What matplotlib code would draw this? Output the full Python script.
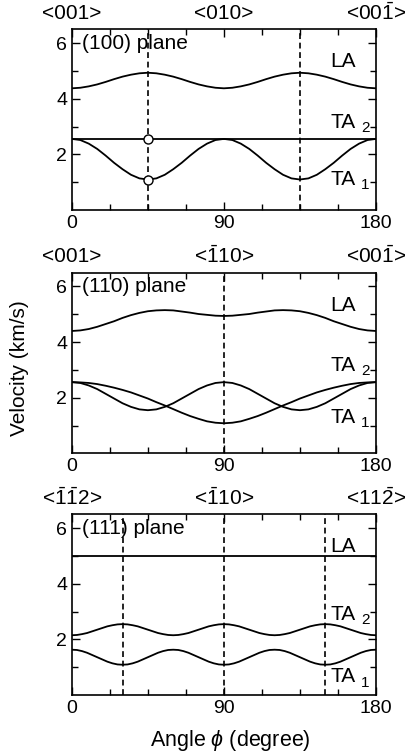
import numpy as np
import matplotlib
matplotlib.use("Agg")
import matplotlib.pyplot as plt
import matplotlib.transforms as mtransforms

plt.rcParams['font.family'] = ['Liberation Sans', 'DejaVu Sans']
plt.rcParams['mathtext.fontset'] = 'custom'
plt.rcParams['mathtext.rm'] = 'Liberation Sans'
plt.rcParams['mathtext.it'] = 'Liberation Sans:italic'

# angles (degree)
phi_a = np.arange(0, 181, 5)
phi_b = np.arange(0, 181, 3)

# (100) plane, velocities in km/s
p1_LA = [4.38, 4.40, 4.45, 4.52, 4.61, 4.71, 4.80, 4.87, 4.92, 4.94, 4.92, 4.87, 4.80, 4.71, 4.61, 4.52, 4.45, 4.40, 4.38,
         4.40, 4.45, 4.52, 4.61, 4.71, 4.80, 4.87, 4.92, 4.94, 4.92, 4.87, 4.80, 4.71, 4.61, 4.52, 4.45, 4.40, 4.38]
p1_TA2 = [2.56] * 37
p1_TA1 = [2.56, 2.52, 2.39, 2.20, 1.96, 1.70, 1.47, 1.27, 1.14, 1.10, 1.14, 1.27, 1.47, 1.70, 1.96, 2.20, 2.39, 2.52, 2.56,
          2.52, 2.39, 2.20, 1.96, 1.70, 1.47, 1.27, 1.14, 1.10, 1.14, 1.27, 1.47, 1.70, 1.96, 2.20, 2.39, 2.52, 2.56]

# (110) plane
p2_LA = [4.40, 4.42, 4.47, 4.55, 4.65, 4.75, 4.87, 4.97, 5.05, 5.11, 5.14, 5.15, 5.14, 5.10, 5.06, 5.01, 4.98, 4.95, 4.94,
         4.95, 4.98, 5.01, 5.06, 5.10, 5.14, 5.15, 5.14, 5.11, 5.05, 4.97, 4.87, 4.75, 4.65, 4.55, 4.47, 4.42, 4.40]
p2_TA2 = [2.56, 2.53, 2.44, 2.31, 2.14, 1.97, 1.80, 1.67, 1.58, 1.55, 1.58, 1.67, 1.80, 1.97, 2.14, 2.31, 2.44, 2.53, 2.56,
          2.53, 2.44, 2.31, 2.14, 1.97, 1.80, 1.67, 1.58, 1.55, 1.58, 1.67, 1.80, 1.97, 2.14, 2.31, 2.44, 2.53, 2.56]
p2_TA1 = [2.56, 2.55, 2.53, 2.49, 2.43, 2.36, 2.28, 2.19, 2.08, 1.97, 1.84, 1.72, 1.59, 1.46, 1.34, 1.24, 1.15, 1.10, 1.08,
          1.10, 1.15, 1.24, 1.34, 1.46, 1.59, 1.72, 1.84, 1.97, 2.08, 2.19, 2.28, 2.36, 2.43, 2.49, 2.53, 2.55, 2.56]

# (111) plane
p3_LA = [5.0] * 61
p3_TA2 = [2.15, 2.16, 2.19, 2.23, 2.29, 2.35, 2.41, 2.47, 2.51, 2.54, 2.55, 2.54, 2.51, 2.47, 2.41, 2.35, 2.29, 2.23, 2.19, 2.16,
          2.15, 2.16, 2.19, 2.23, 2.29, 2.35, 2.41, 2.47, 2.51, 2.54, 2.55, 2.54, 2.51, 2.47, 2.41, 2.35, 2.29, 2.23, 2.19, 2.16,
          2.15, 2.16, 2.19, 2.23, 2.29, 2.35, 2.41, 2.47, 2.51, 2.54, 2.55, 2.54, 2.51, 2.47, 2.41, 2.35, 2.29, 2.23, 2.19, 2.16,
          2.15]
p3_TA1 = [1.63, 1.62, 1.58, 1.52, 1.44, 1.36, 1.28, 1.20, 1.14, 1.10, 1.09, 1.10, 1.14, 1.20, 1.28, 1.36, 1.44, 1.52, 1.58, 1.62,
          1.63, 1.62, 1.58, 1.52, 1.44, 1.36, 1.28, 1.20, 1.14, 1.10, 1.09, 1.10, 1.14, 1.20, 1.28, 1.36, 1.44, 1.52, 1.58, 1.62,
          1.63, 1.62, 1.58, 1.52, 1.44, 1.36, 1.28, 1.20, 1.14, 1.10, 1.09, 1.10, 1.14, 1.20, 1.28, 1.36, 1.44, 1.52, 1.58, 1.62,
          1.63]

planes = ["(100) plane", "(110) plane", "(111) plane"]
top_labels = [["<001>", "<010>", r"<00$\mathrm{\bar{1}}$>"],
              ["<001>", r"<$\mathrm{\bar{1}}$10>", r"<00$\mathrm{\bar{1}}$>"],
              [r"<$\mathrm{\bar{1}\bar{1}}$2>", r"<$\mathrm{\bar{1}}$10>", r"<11$\mathrm{\bar{2}}$>"]]
top_pos = [0, 90, 180]
dashed = [[45, 135], [90], [30, 90, 150]]
# label y positions: LA, TA2, TA1
label_y = [[5.33, 3.15, 1.10], [5.33, 3.15, 1.30], [5.33, 2.90, 0.65]]
circles_x = [45, 45]
circles_y = [2.56, 1.10]

curves = [(phi_a, p1_LA, p1_TA2, p1_TA1),
          (phi_a, p2_LA, p2_TA2, p2_TA1),
          (phi_b, p3_LA, p3_TA2, p3_TA1)]

fig = plt.figure(figsize=(4.06, 7.53), dpi=100)
bottoms = [0.721, 0.398, 0.077]

for i in range(3):
    ax = fig.add_axes([0.177, bottoms[i], 0.749, 0.240])
    x, la, ta2, ta1 = curves[i]
    for v in (la, ta2, ta1):
        ax.plot(x, v, color='black', lw=1.3)
    for d in dashed[i]:
        ax.axvline(d, color='black', lw=1.2, ls=(0, (3.5, 2.2)))
    if i == 0:
        ax.plot(circles_x, circles_y, 'o', mfc='white', mec='black', ms=6.5, mew=1.0, zorder=5)

    ax.set_xlim(0, 180)
    ax.set_ylim(0, 6.5)
    ax.set_xticks([0, 90, 180])
    ax.set_xticks(np.arange(0, 181, 22.5), minor=True)
    ax.set_yticks([2, 4, 6])
    ax.set_yticks([1, 3, 5], minor=True)
    ax.tick_params(which='both', direction='in', top=True, right=True, labelsize=14, width=1.0)
    ax.tick_params(which='major', length=6)
    ax.tick_params(which='minor', length=4)
    for s in ax.spines.values():
        s.set_linewidth(1.2)

    ax.text(6, 6.0, planes[i], fontsize=15, ha='left', va='center')
    ly = label_y[i]
    ax.text(153, ly[0], "LA", fontsize=15, ha='left', va='center')
    ax.text(153, ly[1], "TA", fontsize=15, ha='left', va='center')
    ax.text(171, ly[1] - 0.2, "2", fontsize=11, ha='left', va='center')
    ax.text(153, ly[2], "TA", fontsize=15, ha='left', va='center')
    ax.text(171, ly[2] - 0.2, "1", fontsize=11, ha='left', va='center')

    trans = mtransforms.blended_transform_factory(ax.transData, ax.transAxes)
    for p, lab in zip(top_pos, top_labels[i]):
        ax.text(p, 1.09, lab, fontsize=15, ha='center', va='center', transform=trans)

fig.text(0.047, 0.511, "Velocity (km/s)", rotation=90, fontsize=15, ha='center', va='center')
fig.text(0.568, 0.017, r"Angle $\phi$ (degree)", fontsize=15.5, ha='center', va='center')

fig.savefig("out.png", dpi=100)
